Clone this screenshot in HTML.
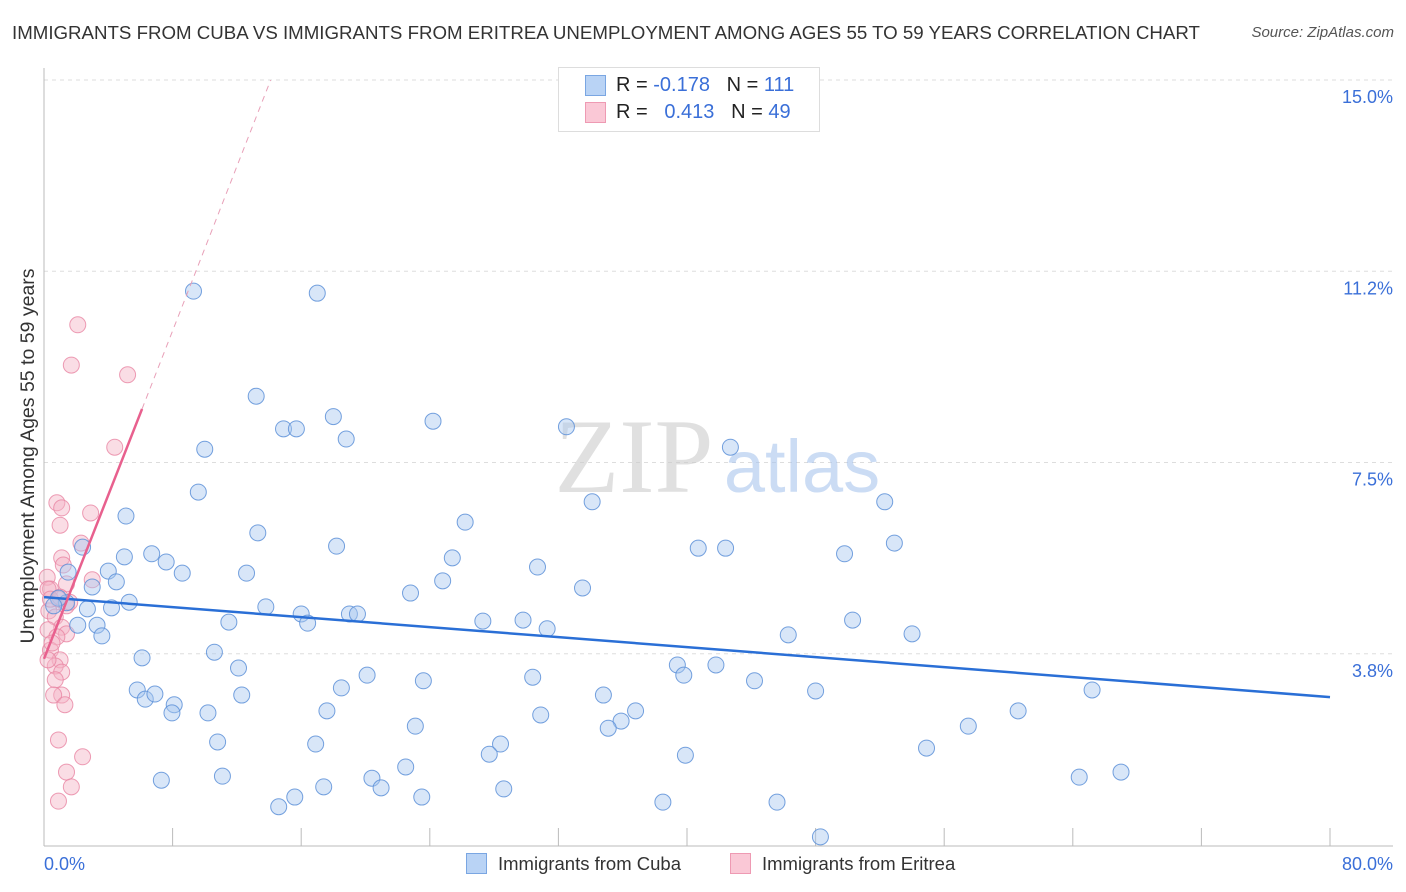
<!DOCTYPE html>
<html><head><meta charset="utf-8"><style>
body{margin:0;background:#fff;font-family:"Liberation Sans",sans-serif;}
#wrap{position:relative;width:1406px;height:892px;overflow:hidden;}
.t{position:absolute;white-space:nowrap;}
</style></head><body>
<div id="wrap">
<div class="t" style="left:12px;top:22px;font-size:18.7px;color:#333;">IMMIGRANTS FROM CUBA VS IMMIGRANTS FROM ERITREA UNEMPLOYMENT AMONG AGES 55 TO 59 YEARS CORRELATION CHART</div>
<div class="t" style="right:12px;top:24px;font-size:15px;color:#555;font-style:italic;">Source: ZipAtlas.com</div>
<svg id="svg" width="1406" height="892" style="position:absolute;left:0;top:0"></svg>
</div>
<script>
const yTicks=[15.0,11.25,7.5,3.75];
const yTickLabels=["15.0%","11.2%","7.5%","3.8%"];
const xTickLabels=["0.0%","80.0%"];
const cubaX=[9.3,17,13.2,14.9,15.7,18.0,18.8,24.2,32.5,42.7,10.0,9.6,5.1,13.3,26.2,34.1,52.3,2.4,5.0,6.7,7.6,8.6,12.6,18.2,25.4,30.7,24.8,33.5,40.7,42.4,49.8,52.9,1.5,4.0,4.5,3.0,5.3,4.2,2.7,1.4,0.9,0.6,13.8,16.0,16.4,19.0,19.5,22.8,27.3,29.8,31.3,11.5,3.3,3.6,2.1,46.3,50.3,54.0,6.1,10.6,12.1,39.4,39.8,41.8,20.1,23.6,30.4,44.2,48.0,65.2,5.8,6.3,6.9,8.1,7.96,12.3,18.5,17.6,10.2,34.8,36.8,35.9,35.1,30.9,23.1,60.6,57.5,10.8,16.9,28.4,27.7,39.9,54.9,22.5,7.3,11.1,20.4,20.97,17.4,15.6,14.6,23.5,28.6,38.5,45.6,64.4,67.0,48.3,36.3];
const cubaY=[10.86,10.82,8.8,8.16,8.16,8.4,7.96,8.31,8.2,7.8,7.76,6.92,6.45,6.12,6.33,6.73,6.73,5.84,5.65,5.71,5.55,5.33,5.33,5.86,5.63,5.45,5.18,5.04,5.82,5.82,5.71,5.92,5.35,5.37,5.16,5.06,4.76,4.65,4.63,4.75,4.84,4.69,4.67,4.53,4.35,4.53,4.53,4.94,4.39,4.41,4.24,4.37,4.31,4.1,4.31,4.12,4.41,4.14,3.67,3.78,3.47,3.53,3.33,3.53,3.33,3.22,3.29,3.22,3.02,3.04,3.04,2.86,2.96,2.75,2.59,2.94,3.08,2.63,2.59,2.94,2.63,2.43,2.29,2.55,2.33,2.63,2.33,2.02,1.98,1.98,1.78,1.76,1.9,1.53,1.27,1.35,1.31,1.12,1.14,0.94,0.75,0.94,1.10,0.84,0.84,1.33,1.43,0.16,14.35];
const eritreaX=[2.1,1.7,5.2,4.4,0.8,1.1,2.9,1.0,2.3,1.1,3.0,1.2,0.2,1.4,0.4,0.9,1.4,0.3,0.7,1.1,0.25,1.4,0.8,0.4,1.0,0.7,0.25,1.1,0.7,1.1,0.6,1.3,0.9,2.4,1.4,1.7,0.9,0.25,0.4,1.0,1.6,0.5];
const eritreaY=[10.2,9.41,9.22,7.8,6.71,6.61,6.51,6.27,5.92,5.63,5.2,5.49,5.25,5.12,5.02,4.82,4.69,4.59,4.47,4.27,4.22,4.14,4.08,3.82,3.63,3.51,3.63,3.39,3.24,2.94,2.94,2.75,2.06,1.73,1.43,1.14,0.86,5.02,4.82,4.86,4.76,3.96];
const svg=document.getElementById('svg');const NS='http://www.w3.org/2000/svg';
const X0=44,XS=16.075,Y0=845,YS=51;
const xs=v=>X0+v*XS, ys=v=>Y0-v*YS;
function mk(tag,attrs,name){const e=document.createElementNS(NS,tag);for(const k in attrs)e.setAttribute(k,attrs[k]);


svg.appendChild(e);return e;}
yTicks.forEach((v,i)=>{mk('line',{x1:44,x2:1393,y1:ys(v),y2:ys(v),stroke:'#ddd','stroke-dasharray':'4,4'},'gridline');
const t=mk('text',{x:1393,y:ys(v)+23,'text-anchor':'end','font-size':18,fill:'#3a6fd8'},'y-tick-label');t.textContent=yTickLabels[i];});
mk('line',{x1:44,x2:44,y1:68,y2:846,stroke:'#bbb'},'y-axis');
mk('line',{x1:44,x2:1393,y1:846,y2:846,stroke:'#bbb'},'x-axis');
for(let i=1;i<=10;i++)mk('line',{x1:xs(i*8),x2:xs(i*8),y1:828,y2:846,stroke:'#bbb'},'x-tick');
[[0,44,'start'],[1,1393,'end']].forEach(([i,x,a])=>{const t=mk('text',{x:x,y:870,'text-anchor':a,'font-size':18,fill:'#3a6fd8'},'x-tick-label');t.textContent=xTickLabels[i];});
const yl=mk('text',{x:34,y:456,'text-anchor':'middle','font-size':19.5,fill:'#333',transform:'rotate(-90 34 456)'},'y-axis-title');yl.textContent='Unemployment Among Ages 55 to 59 years';
const w1=mk('text',{x:634,y:492,'text-anchor':'middle','font-size':106,fill:'#ccc','font-family':'Liberation Serif',opacity:0.6},'watermark-zip');w1.textContent='ZIP';
const w2=mk('text',{x:802,y:492,'text-anchor':'middle','font-size':74,fill:'#a9c5ee',opacity:0.6},'watermark-atlas');w2.textContent='atlas';
eritreaX.forEach((x,i)=>mk('circle',{cx:xs(x),cy:ys(eritreaY[i]),r:8,fill:'#f5b3c6','fill-opacity':0.45,stroke:'#e985a3','stroke-opacity':0.8},'eritrea-point'));
cubaX.forEach((x,i)=>mk('circle',{cx:xs(x),cy:ys(cubaY[i]),r:8,fill:'#a9c8f0','fill-opacity':0.45,stroke:'#5d91d8','stroke-opacity':0.85},'cuba-point'));
mk('line',{x1:xs(0),y1:ys(4.86),x2:xs(80),y2:ys(2.9),stroke:'#2a6fd6','stroke-width':2.5},'cuba-trendline');
mk('line',{x1:xs(0),y1:ys(3.65),x2:xs(6.1),y2:ys(8.55),stroke:'#e8608e','stroke-width':2.5},'eritrea-trendline');
mk('line',{x1:xs(6.1),y1:ys(8.55),x2:xs(14.1),y2:ys(15),stroke:'#e8a0b8','stroke-width':1,'stroke-dasharray':'6,5'},'eritrea-trendline-extension');
</script>
<div class="t" style="left:558px;top:67px;width:260px;height:63px;border:1px solid #ddd;background:#fff;"></div>
<div class="t" style="left:585px;top:75px;width:19px;height:19px;background:#b9d3f5;border:1px solid #7aa6e2;"></div>
<div class="t" style="left:585px;top:102px;width:19px;height:19px;background:#fac8d6;border:1px solid #ee9ab3;"></div>
<div class="t" style="left:616px;top:74px;font-size:20px;color:#222;">R = <span style="color:#3a6fd8">-0.178</span>&nbsp;&nbsp;&nbsp;N = <span style="color:#3a6fd8">111</span></div>
<div class="t" style="left:616px;top:101px;font-size:20px;color:#222;">R = &nbsp;&nbsp;<span style="color:#3a6fd8">0.413</span>&nbsp;&nbsp;&nbsp;N = <span style="color:#3a6fd8">49</span></div>
<div class="t" style="left:466px;top:853px;width:19px;height:19px;background:#b9d3f5;border:1px solid #7aa6e2;"></div>
<div class="t" style="left:498px;top:853px;font-size:18.5px;color:#333;">Immigrants from Cuba</div>
<div class="t" style="left:730px;top:853px;width:19px;height:19px;background:#fac8d6;border:1px solid #ee9ab3;"></div>
<div class="t" style="left:762px;top:853px;font-size:18.5px;color:#333;">Immigrants from Eritrea</div>
</body></html>
